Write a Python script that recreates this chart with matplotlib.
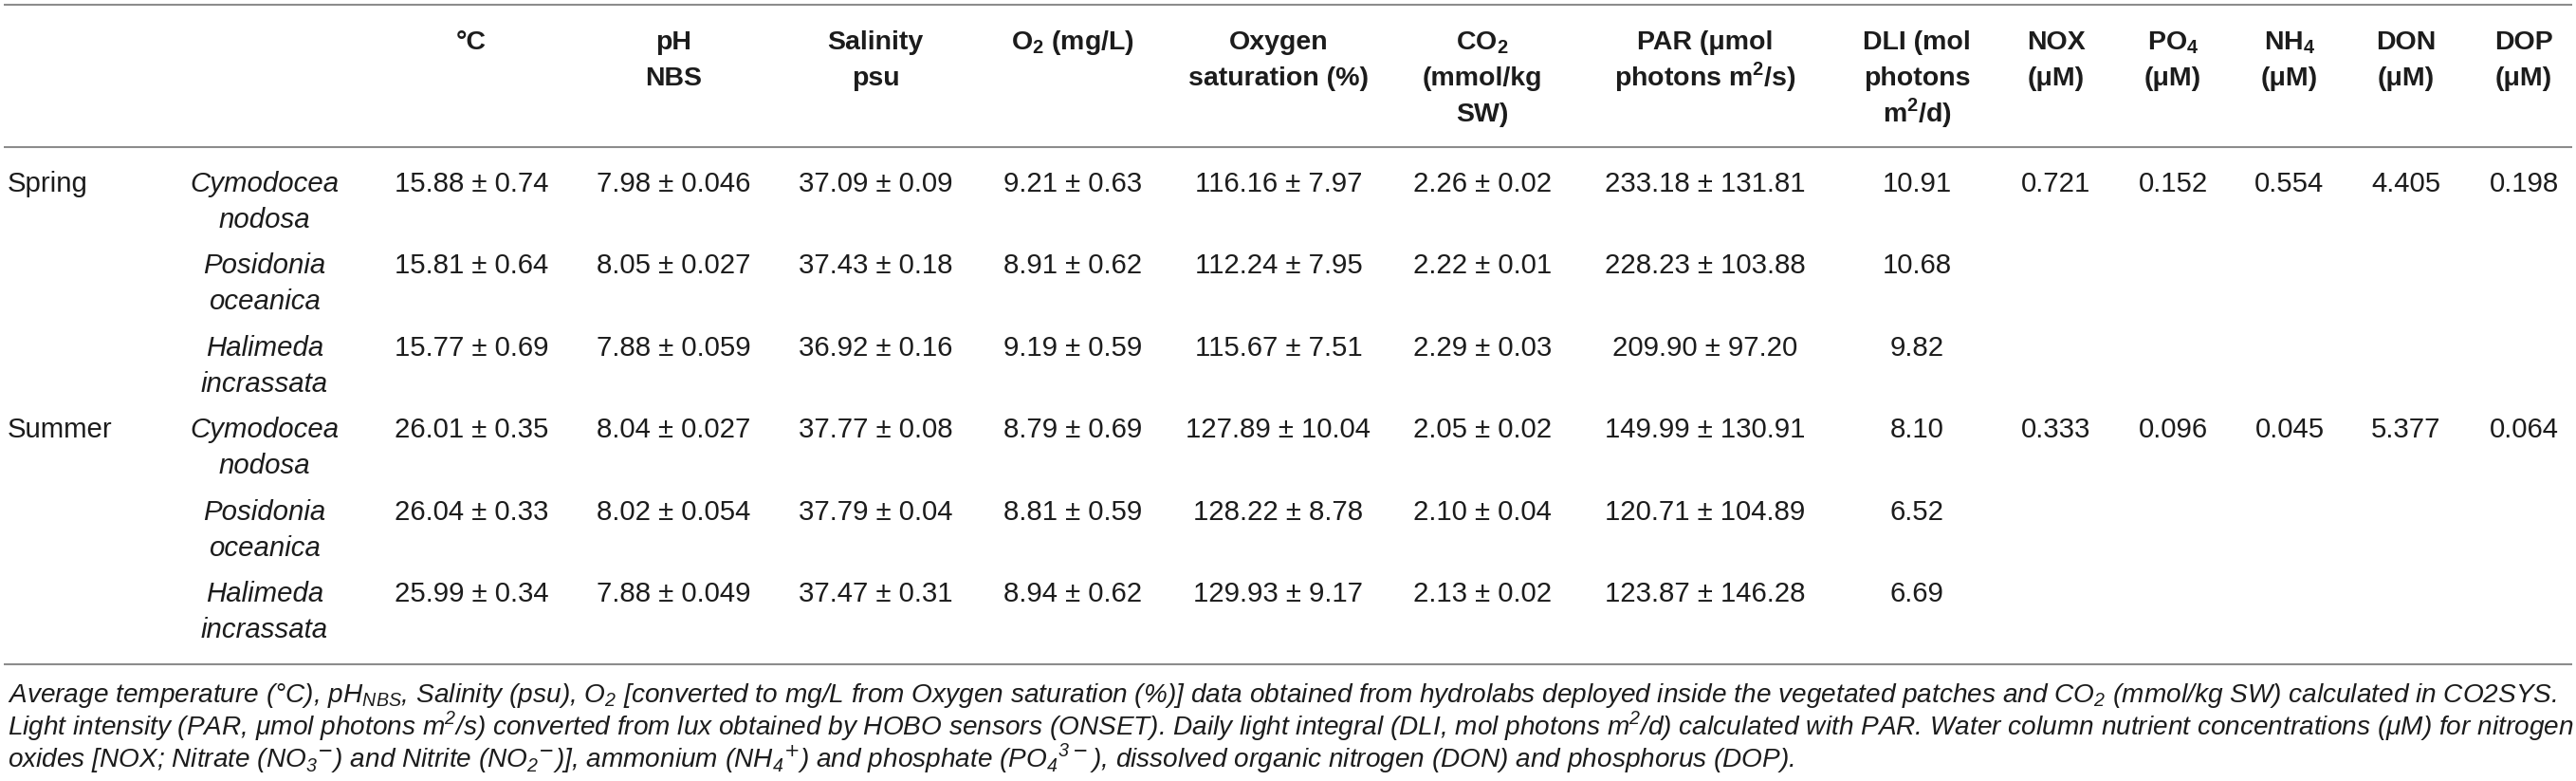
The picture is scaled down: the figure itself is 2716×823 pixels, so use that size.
import matplotlib
matplotlib.use('Agg')
import matplotlib.pyplot as plt

plt.rcParams['font.family'] = ['Liberation Sans', 'DejaVu Sans']
plt.rcParams['mathtext.fontset'] = 'dejavusans'

##############################################################################
###### table values

seasons = ['Spring', 'Summer']
species = [['Cymodocea', 'nodosa'], ['Posidonia', 'oceanica'], ['Halimeda', 'incrassata']]

temp_mean = [15.88, 15.81, 15.77, 26.01, 26.04, 25.99]
temp_sd = [0.74, 0.64, 0.69, 0.35, 0.33, 0.34]
ph_mean = [7.98, 8.05, 7.88, 8.04, 8.02, 7.88]
ph_sd = [0.046, 0.027, 0.059, 0.027, 0.054, 0.049]
sal_mean = [37.09, 37.43, 36.92, 37.77, 37.79, 37.47]
sal_sd = [0.09, 0.18, 0.16, 0.08, 0.04, 0.31]
o2_mean = [9.21, 8.91, 9.19, 8.79, 8.81, 8.94]
o2_sd = [0.63, 0.62, 0.59, 0.69, 0.59, 0.62]
oxsat_mean = [116.16, 112.24, 115.67, 127.89, 128.22, 129.93]
oxsat_sd = [7.97, 7.95, 7.51, 10.04, 8.78, 9.17]
co2_mean = [2.26, 2.22, 2.29, 2.05, 2.10, 2.13]
co2_sd = [0.02, 0.01, 0.03, 0.02, 0.04, 0.02]
par_mean = [233.18, 228.23, 209.90, 149.99, 120.71, 123.87]
par_sd = [131.81, 103.88, 97.20, 130.91, 104.89, 146.28]
dli = [10.91, 10.68, 9.82, 8.10, 6.52, 6.69]

# nutrients: one value per season
nox = [0.721, 0.333]
po4 = [0.152, 0.096]
nh4 = [0.554, 0.045]
don = [4.405, 5.377]
dop = [0.198, 0.064]

headers = [
    ['°C'],
    ['pH', 'NBS'],
    ['Salinity', 'psu'],
    [r'O$_\mathregular{2}$ (mg/L)'],
    ['Oxygen', 'saturation (%)'],
    [r'CO$_\mathregular{2}$', '(mmol/kg', 'SW)'],
    ['PAR (μmol', r'photons m$^\mathregular{2}$/s)'],
    ['DLI (mol', 'photons', r'm$^\mathregular{2}$/d)'],
    ['NOX', '(μM)'],
    [r'PO$_\mathregular{4}$', '(μM)'],
    [r'NH$_\mathregular{4}$', '(μM)'],
    ['DON', '(μM)'],
    ['DOP', '(μM)'],
]

caption = [
    r'Average temperature (°C), pH$_\mathregular{NBS}$, Salinity (psu), O$_\mathregular{2}$ [converted to mg/L from Oxygen saturation (%)] data obtained from hydrolabs deployed inside the vegetated patches and CO$_\mathregular{2}$ (mmol/kg SW) calculated in CO2SYS.',
    r'Light intensity (PAR, μmol photons m$^\mathregular{2}$/s) converted from lux obtained by HOBO sensors (ONSET). Daily light integral (DLI, mol photons m$^\mathregular{2}$/d) calculated with PAR. Water column nutrient concentrations (μM) for nitrogen',
    r'oxides [NOX; Nitrate (NO$_\mathregular{3}{}^{-}$) and Nitrite (NO$_\mathregular{2}{}^{-}$)], ammonium (NH$_\mathregular{4}{}^{+}$) and phosphate (PO$_\mathregular{4}{}^{\mathregular{3}-}$), dissolved organic nitrogen (DON) and phosphorus (DOP).',
]

##############################################################################
###### layout (pixels)

W, H = 2716, 823
col_x = [497, 710, 923, 1131, 1348, 1563, 1798, 2021, 2168, 2291, 2414, 2537, 2661]
species_x = 279
season_x = 8
row0, row_step, line_step = 202, 86.4, 38
head0 = 52
txt_col = '#1c1c1c'
body_fs = 21.2
head_fs = 20.5

fig = plt.figure(figsize=(W / 100, H / 100), dpi=100)
ax = fig.add_axes([0, 0, 1, 1])
ax.set_xlim(0, W)
ax.set_ylim(H, 0)
ax.axis('off')

for y in [5, 155, 700]:
    ax.plot([4, 2712], [y, y], color='#8c8c8c', lw=1.5, solid_capstyle='butt')

# header
for x, lines in zip(col_x, headers):
    for k, s in enumerate(lines):
        ax.text(x, head0 + k * line_step, s, ha='center', va='baseline',
                fontsize=head_fs, fontweight='bold', color=txt_col)

# body
cols = [
    (temp_mean, temp_sd, '{:.2f}', '{:.2f}'),
    (ph_mean, ph_sd, '{:.2f}', '{:.3f}'),
    (sal_mean, sal_sd, '{:.2f}', '{:.2f}'),
    (o2_mean, o2_sd, '{:.2f}', '{:.2f}'),
    (oxsat_mean, oxsat_sd, '{:.2f}', '{:.2f}'),
    (co2_mean, co2_sd, '{:.2f}', '{:.2f}'),
    (par_mean, par_sd, '{:.2f}', '{:.2f}'),
]
nutrients = [nox, po4, nh4, don, dop]

for i in range(6):
    yb = row0 + i * row_step
    s_idx, sp_idx = divmod(i, 3)
    if sp_idx == 0:
        ax.text(season_x, yb, seasons[s_idx], ha='left', va='baseline',
                fontsize=body_fs, color=txt_col)
        for x, vals in zip(col_x[8:], nutrients):
            ax.text(x, yb, '{:.3f}'.format(vals[s_idx]), ha='center',
                    va='baseline', fontsize=body_fs, color=txt_col)
    for k, s in enumerate(species[sp_idx]):
        ax.text(species_x, yb + k * line_step, s, ha='center', va='baseline',
                fontsize=body_fs, style='italic', color=txt_col)
    for x, (m, sd, fm, fs) in zip(col_x, cols):
        ax.text(x, yb, fm.format(m[i]) + ' ± ' + fs.format(sd[i]),
                ha='center', va='baseline', fontsize=body_fs, color=txt_col)
    ax.text(col_x[7], yb, '{:.2f}'.format(dli[i]), ha='center',
            va='baseline', fontsize=body_fs, color=txt_col)

# caption, sized so the first line spans the table width
cap_texts = []
for k, s in enumerate(caption):
    t = ax.text(8, 740 + k * 34, s, ha='left', va='baseline', fontsize=16,
                style='italic', color=txt_col)
    cap_texts.append(t)

fig.canvas.draw()
r = fig.canvas.get_renderer()
w0 = cap_texts[0].get_window_extent(r).width
new_fs = 16 * 2697 / w0
for t in cap_texts:
    t.set_fontsize(new_fs)

plt.savefig('out.png', dpi=100)
